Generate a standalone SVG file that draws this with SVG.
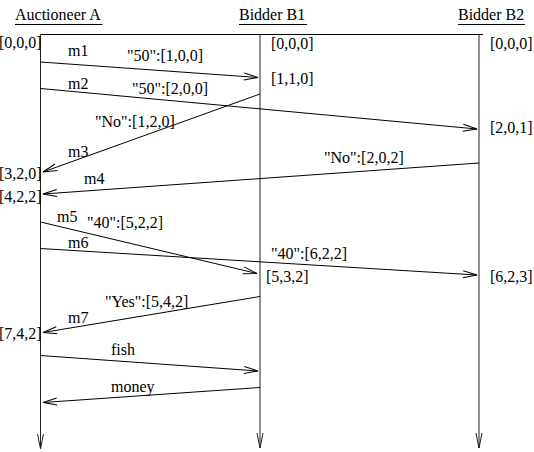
<svg xmlns="http://www.w3.org/2000/svg" width="534" height="452" viewBox="0 0 534 452" font-family="'Liberation Serif', 'DejaVu Serif', serif" font-size="16">
<style>
text{font-family:'Liberation Serif','DejaVu Serif',serif;font-size:16px;fill:#000}
.ln{stroke:#000;stroke-width:1;fill:none}
.life{stroke:#222;stroke-width:1;fill:none;marker-end:url(#lifeArrow)}
.msg{stroke:#000;stroke-width:1;fill:none;marker-end:url(#msgArrow)}
</style>
<defs>
<marker id="msgArrow" markerUnits="userSpaceOnUse" viewBox="-15 -5 16 10" markerWidth="16" markerHeight="10" refX="0" refY="0" orient="auto" overflow="visible">
<path d="M-14,-3.5 L0,0 L-14,3.5" fill="none" stroke="#000" stroke-width="1"/>
</marker>
<marker id="lifeArrow" markerUnits="userSpaceOnUse" viewBox="-16 -5 17 10" markerWidth="17" markerHeight="10" refX="0" refY="0" orient="auto" overflow="visible">
<path d="M-15,-3 L0,0 L-15,3" fill="none" stroke="#222" stroke-width="1"/>
</marker>
</defs>
<rect width="534" height="452" fill="#fff"/>
<line class="ln" x1="40.5" y1="34.5" x2="483" y2="34.5"/>
<g id="auctioneerA">
<text x="15" y="20">Auctioneer A</text>
<line class="ln" x1="15" y1="24.5" x2="102.5" y2="24.5"/>
<line class="life" x1="40.5" y1="34.5" x2="40.5" y2="449"/>
<text x="-1" y="48">[0,0,0]</text>
<text x="-1" y="179">[3,2,0]</text>
<text x="-1" y="201.5">[4,2,2]</text>
<text x="-1" y="339">[7,4,2]</text>
</g>
<g id="bidderB1">
<text x="239" y="20">Bidder B1</text>
<line class="ln" x1="239" y1="24.5" x2="307" y2="24.5"/>
<line class="life" x1="260" y1="34.5" x2="260" y2="448"/>
<text x="271" y="49">[0,0,0]</text>
<text x="271" y="84">[1,1,0]</text>
<text x="266" y="282">[5,3,2]</text>
</g>
<g id="bidderB2">
<text x="458" y="20">Bidder B2</text>
<line class="ln" x1="458" y1="24.5" x2="525" y2="24.5"/>
<line class="life" x1="479" y1="34.5" x2="479" y2="448"/>
<text x="490" y="49">[0,0,0]</text>
<text x="490" y="133">[2,0,1]</text>
<text x="490" y="282">[6,2,3]</text>
</g>
<g id="connectors">
<line class="msg" x1="40.5" y1="62" x2="258" y2="77.5"/>
<text x="68" y="56">m1</text>
<text x="127" y="61">"50":[1,0,0]</text>
<line class="msg" x1="40.5" y1="88.5" x2="477" y2="129"/>
<text x="68" y="89">m2</text>
<text x="132" y="94">"50":[2,0,0]</text>
<line class="msg" x1="260" y1="94" x2="43" y2="172"/>
<text x="95" y="127">"No":[1,2,0]</text>
<text x="68" y="157">m3</text>
<line class="msg" x1="479" y1="163" x2="43" y2="194"/>
<text x="324" y="163">"No":[2,0,2]</text>
<text x="84" y="184">m4</text>
<line class="msg" x1="40.5" y1="222" x2="257" y2="273.5"/>
<text x="57" y="222">m5</text>
<text x="87" y="228">"40":[5,2,2]</text>
<line class="msg" x1="40.5" y1="248.5" x2="477" y2="275"/>
<text x="68" y="248">m6</text>
<text x="271" y="259">"40":[6,2,2]</text>
<line class="msg" x1="260" y1="296.5" x2="43" y2="332.5"/>
<text x="105" y="307">"Yes":[5,4,2]</text>
<text x="68" y="323">m7</text>
<line class="msg" x1="40.5" y1="355.5" x2="258" y2="371"/>
<text x="111" y="355">fish</text>
<line class="msg" x1="260" y1="387.5" x2="43" y2="402.5"/>
<text x="111" y="392">money</text>
</g>
</svg>
